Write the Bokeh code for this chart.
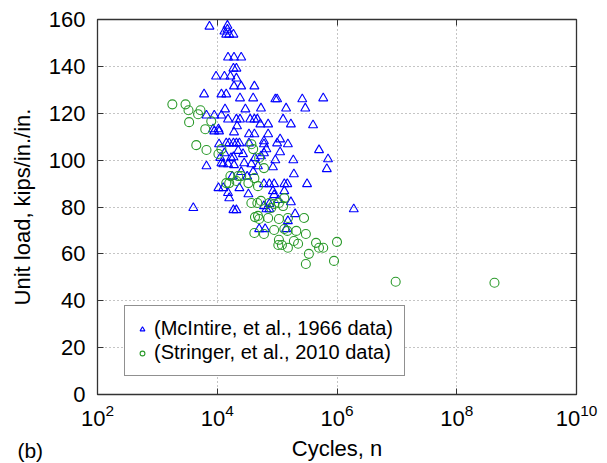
from bokeh.plotting import figure
from bokeh.models import (FixedTicker, LogAxis, LinearAxis, Legend, LegendItem, Label,
                          ColumnDataSource)
from bokeh.embed import file_html
from bokeh.resources import INLINE

# ---------------- data (log10 of cycles, unit load in kips/in./in.) ----------------
mcintire_log_n = [
    3.87, 4.17, 4.17, 4.12, 4.15, 4.20, 4.27, 4.18, 4.28, 4.40, 4.27, 4.32, 3.98, 4.12, 4.22,
    4.32, 4.28, 4.40, 3.78, 4.07, 4.15, 4.38, 4.62, 4.60, 4.97, 5.00, 5.42, 5.77, 4.73, 5.15,
    5.47, 4.13, 4.47, 3.82, 3.95, 4.07, 4.18, 4.32, 4.38, 4.55, 4.62, 4.67, 5.10, 4.72, 4.85,
    5.23, 5.60, 4.33, 4.28, 3.95, 4.02, 3.93, 4.53, 4.62, 4.85, 4.78, 5.05, 5.00, 5.18, 4.03,
    4.15, 4.20, 4.27, 4.32, 4.37, 4.53, 4.78, 5.70, 5.05, 4.43, 4.78, 4.82, 5.27, 4.97, 5.85,
    5.83, 4.23, 4.27, 4.10, 4.18, 4.28, 4.45, 4.57, 4.63, 4.73, 4.68, 4.93, 3.82, 5.28, 4.02,
    4.10, 4.18, 4.20, 4.37, 4.52, 4.78, 4.87, 4.95, 5.12, 5.17, 5.50, 4.93, 4.95, 5.12, 5.02,
    5.23, 4.87, 4.82, 4.87, 4.78, 3.60, 4.27, 4.32, 5.30, 5.18, 4.70, 4.80, 5.15, 6.28,
    4.05, 4.12, 4.35, 4.40, 4.25, 4.50, 4.60, 4.07, 4.03,
]
mcintire_load = [
    157.0, 157.4, 155.7, 154.9, 153.6, 153.6, 153.6, 143.8, 143.8, 143.8, 139.1, 139.1, 135.7, 135.7, 135.7,
    134.9, 131.5, 131.5, 128.1, 128.1, 128.1, 126.4, 131.5, 126.4, 126.0, 126.0, 126.0, 126.4, 122.1, 122.1,
    122.1, 121.7, 121.7, 119.1, 119.1, 119.1, 117.4, 117.4, 117.4, 117.4, 117.4, 117.4, 117.4, 115.3, 115.3,
    115.3, 114.9, 114.5, 111.9, 112.3, 113.2, 113.2, 111.1, 111.1, 111.1, 108.1, 108.9, 107.2, 106.8, 106.8,
    107.2, 107.2, 107.2, 107.2, 107.2, 107.2, 106.8, 104.3, 103.4, 102.6, 103.0, 104.7, 100.0, 100.0, 100.4,
    96.2, 100.9, 101.3, 98.3, 98.3, 97.9, 98.7, 98.3, 100.9, 101.7, 97.4, 97.0, 97.4, 94.0, 88.1,
    88.1, 86.0, 83.8, 88.1, 85.5, 89.8, 89.8, 89.8, 89.8, 89.8, 89.8, 86.8, 85.1, 86.8, 83.0,
    82.1, 81.3, 79.1, 79.1, 80.4, 79.6, 78.7, 78.7, 77.0, 74.0, 70.6, 70.6, 70.6, 79.1,
    101.0, 103.0, 104.0, 95.0, 93.0, 93.0, 95.0, 98.7, 112.3,
]

stringer_log_n = [
    3.25, 3.47, 3.52, 3.72, 3.68, 3.53, 3.90, 3.80, 3.65, 3.82, 4.02, 4.07, 4.57, 4.60, 4.70,
    4.78, 4.22, 4.35, 4.40, 4.20, 4.32, 4.52, 4.62, 4.68, 4.15, 4.57, 4.67, 4.73, 4.87, 4.90,
    4.95, 5.03, 5.12, 5.10, 4.63, 4.70, 4.68, 4.85, 5.03, 5.18, 5.45, 4.62, 4.78, 4.95, 5.12,
    5.17, 5.32, 5.48, 5.03, 5.02, 5.08, 5.18, 5.28, 5.35, 5.53, 5.65, 5.70, 5.77, 6.00, 5.48,
    5.95, 6.98, 8.63,
]
stringer_load = [
    123.8, 123.8, 121.3, 121.3, 119.6, 116.2, 116.6, 113.2, 106.4, 104.3, 102.6, 104.7, 106.8, 104.7, 100.9,
    96.6, 93.2, 93.2, 93.2, 90.2, 91.1, 90.2, 92.3, 88.9, 90.2, 81.7, 81.7, 82.6, 81.7, 79.6,
    81.3, 81.7, 83.8, 80.4, 75.7, 74.9, 76.2, 75.3, 74.9, 75.3, 75.3, 68.9, 68.5, 70.2, 70.6,
    69.8, 69.8, 68.5, 66.0, 63.8, 63.8, 62.6, 65.5, 64.3, 60.0, 64.7, 62.6, 62.6, 65.1, 55.7,
    57.0, 48.1, 47.7,
]

x_ticks = [1e2, 1e4, 1e6, 1e8, 1e10]
y_ticks = [0, 20, 40, 60, 80, 100, 120, 140, 160]
series_labels = ["(McIntire, et al., 1966 data)", "(Stringer, et al., 2010 data)"]
panel_tag = "(b)"

FONT = "Liberation Sans"
BLUE = "#0000ff"
GREEN = "#2a9a2a"

src_m = ColumnDataSource(dict(n=[10 ** v for v in mcintire_log_n], load=mcintire_load))
src_s = ColumnDataSource(dict(n=[10 ** v for v in stringer_log_n], load=stringer_load))

p = figure(width=607, height=463, x_axis_type="log", x_range=(1e2, 1e10), y_range=(0, 160),
           output_backend="svg", toolbar_location=None,
           min_border_left=97, min_border_right=31, min_border_top=19, min_border_bottom=69)
p.background_fill_color = "white"
p.border_fill_color = "white"
p.outline_line_color = "#333333"
p.outline_line_width = 1.3

r_m = p.scatter("n", "load", source=src_m, marker="triangle", size=9,
                fill_color=None, line_color=BLUE, line_width=1.1)
r_s = p.scatter("n", "load", source=src_s, marker="circle", size=9,
                fill_color=None, line_color=GREEN, line_width=1.1)

# axes
p.xaxis.ticker = FixedTicker(ticks=x_ticks, minor_ticks=[])
p.yaxis.ticker = FixedTicker(ticks=y_ticks, minor_ticks=[])
for ax in (p.xaxis[0], p.yaxis[0]):
    ax.axis_line_color = "#333333"
    ax.major_tick_in = 6
    ax.major_tick_out = 0
    ax.major_tick_line_color = "#333333"
    ax.minor_tick_line_color = None
    ax.major_label_text_font = FONT
    ax.major_label_text_font_size = "22px"
    ax.major_label_text_color = "black"
    ax.axis_label_text_font = FONT
    ax.axis_label_text_font_size = "22px"
    ax.axis_label_text_font_style = "normal"
    ax.axis_label_text_color = "black"

p.xaxis.axis_label = "Cycles, n"
p.yaxis.axis_label = "Unit load, kips/in./in."
p.yaxis.major_label_standoff = 12
p.yaxis.axis_label_standoff = 11
p.xaxis.major_label_standoff = 9
p.xaxis.axis_label_standoff = 7

# top / right tick marks (box style), no labels
top = LogAxis(ticker=FixedTicker(ticks=x_ticks, minor_ticks=[]), major_tick_in=6, major_tick_out=0,
              minor_tick_line_color=None, major_label_text_color=None,
              major_label_text_font_size="1px", axis_line_color="#333333",
              major_tick_line_color="#333333", major_label_standoff=0)
right = LinearAxis(ticker=FixedTicker(ticks=y_ticks, minor_ticks=[]), major_tick_in=6, major_tick_out=0,
                   minor_tick_line_color=None, major_label_text_color=None,
                   major_label_text_font_size="1px", axis_line_color="#333333",
                   major_tick_line_color="#333333", major_label_standoff=0)
p.add_layout(top, "above")
p.add_layout(right, "right")

# grid
p.grid.grid_line_color = "#8a8a8a"
p.grid.grid_line_dash = "1 3"
p.grid.grid_line_width = 1

# legend
legend = Legend(items=[LegendItem(label=series_labels[0], renderers=[r_m]),
                       LegendItem(label=series_labels[1], renderers=[r_s])],
                location=(27, 18), label_text_font=FONT, label_text_font_size="20px",
                label_text_color="black", glyph_width=12, glyph_height=12, label_height=22,
                spacing=1, padding=11, margin=0, label_standoff=6,
                border_line_color="#222222", border_line_width=1,
                background_fill_color="white", background_fill_alpha=1)
p.add_layout(legend, "center")

# panel tag "(b)" at the bottom-left; hosted in the (roomy) right side panel so it is not
# clipped to the frame and does not shrink the frame vertically
tag = Label(x=4.6, y=-24, x_units="data", y_units="data", text=panel_tag,
            text_font=FONT, text_font_size="21px", text_color="black",
            text_baseline="alphabetic")
p.add_layout(tag, "right")

open("out.html", "w").write(file_html(p, INLINE))
